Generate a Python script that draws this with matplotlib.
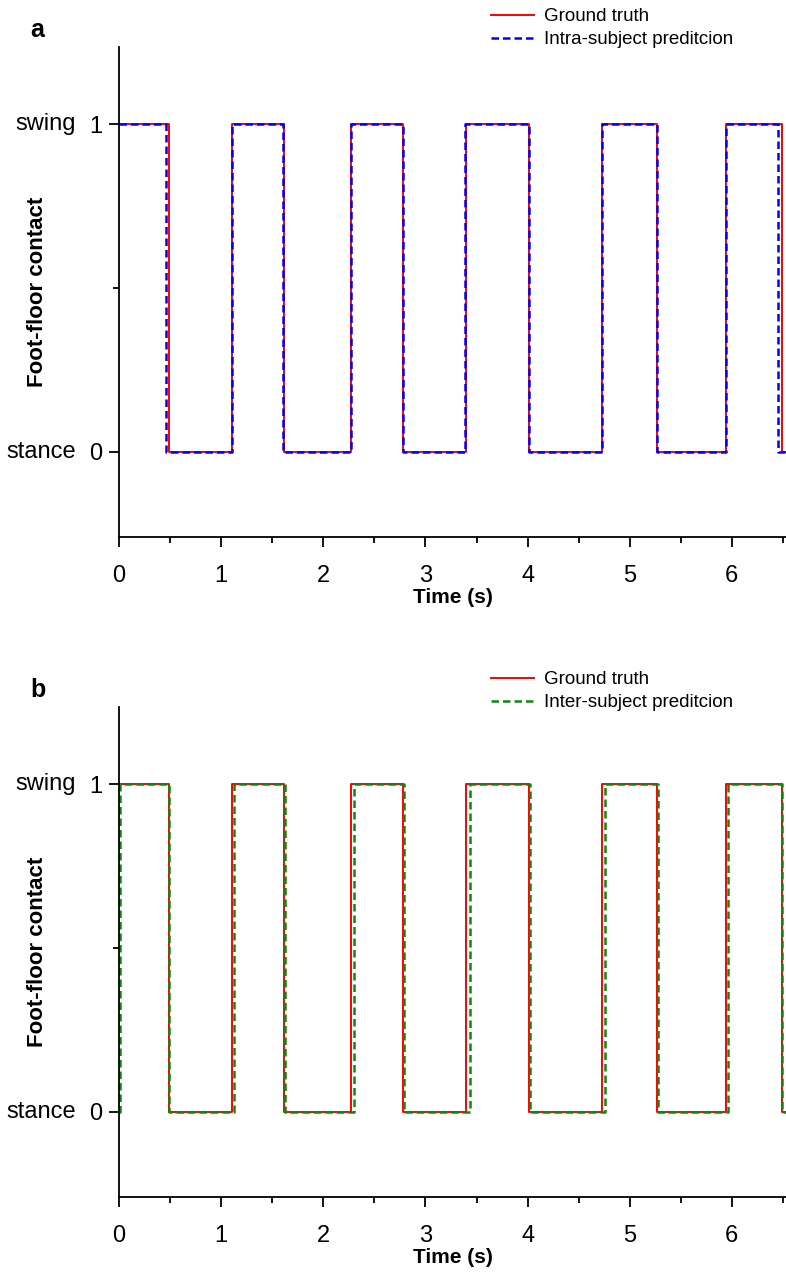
import matplotlib
matplotlib.use("Agg")
import matplotlib.pyplot as plt
from matplotlib.ticker import MultipleLocator, FixedLocator

# ---------------- data ----------------
t_end = 6.53
# Ground truth (same in both panels): change times and levels after each change
truth_times = [0.0, 0.49, 1.11, 1.615, 2.267, 2.78, 3.40, 4.01, 4.73, 5.27, 5.945, 6.487]
truth_levels = [1, 0, 1, 0, 1, 0, 1, 0, 1, 0, 1, 0]

intra_times = [0.0, 0.457, 1.11, 1.607, 2.267, 2.78, 3.39, 4.01, 4.73, 5.27, 5.945, 6.45]
intra_levels = [1, 0, 1, 0, 1, 0, 1, 0, 1, 0, 1, 0]

inter_times = [0.0, 0.006, 0.49, 1.13, 1.63, 2.30, 2.79, 3.44, 4.025, 4.755, 5.28, 5.965, 6.49]
inter_levels = [0, 1, 0, 1, 0, 1, 0, 1, 0, 1, 0, 1, 0]

x_ticks = [0, 1, 2, 3, 4, 5, 6]
y_tick_labels = ["0", "1"]
state_labels = ["stance", "swing"]

# ---------------- style ----------------
plt.rcParams["font.family"] = ["Liberation Sans", "DejaVu Sans"]

W, H = 786, 1275
fig = plt.figure(figsize=(W / 100, H / 100), dpi=100)

def px_axes(top, bottom, left=119, right=786):
    return fig.add_axes([left / W, 1 - bottom / H, (right - left) / W, (bottom - top) / H])

def style_axes(ax):
    ax.set_xlim(0, t_end)
    ax.set_ylim(-0.26, 1.235)
    for s in ("top", "right"):
        ax.spines[s].set_visible(False)
    for s in ("left", "bottom"):
        ax.spines[s].set_linewidth(1.3)
    ax.xaxis.set_major_locator(FixedLocator(x_ticks))
    ax.xaxis.set_minor_locator(MultipleLocator(0.5))
    ax.yaxis.set_major_locator(FixedLocator([0, 1]))
    ax.yaxis.set_minor_locator(FixedLocator([0.5]))
    ax.set_yticklabels(y_tick_labels)
    ax.tick_params(axis="both", which="major", direction="out", length=7, width=1.3,
                   labelsize=17)
    ax.tick_params(axis="both", which="minor", direction="out", length=4, width=1.3)
    ax.tick_params(axis="x", pad=13)
    ax.tick_params(axis="y", pad=5)
    ax.set_xlabel("Time (s)", fontsize=15, fontweight="bold", labelpad=1)
    ax.set_ylabel("Foot-floor contact", fontsize=16, fontweight="bold", labelpad=30)
    for yv, lab in zip([0, 1], state_labels):
        ax.text(-0.42, yv, lab, transform=ax.transData, ha="right", va="center",
                fontsize=17, clip_on=False)

def steps(times, levels):
    return list(times) + [t_end], list(levels) + [levels[-1]]

# Panel a
axa = px_axes(47, 537)
style_axes(axa)
tx, ty = steps(truth_times, truth_levels)
ix, iy = steps(intra_times, intra_levels)
la1, = axa.step(tx, ty, where="post", color="#ff0000", lw=1.4, label="Ground truth", clip_on=False)
la2, = axa.step(ix, iy, where="post", color="#0000ff", lw=1.8, ls=(0, (3, 1.6)),
                label="Intra-subject preditcion", clip_on=False)
fig.legend(handles=[la1, la2], loc="upper left", bbox_to_anchor=(480 / W, 1 + 3 / H),
           frameon=False, fontsize=13.5, handlelength=2.3, handletextpad=0.5,
           labelspacing=0.3, borderaxespad=0.2)
fig.text(30 / W, 1 - 30 / H, "a", fontsize=18, fontweight="bold", va="center", ha="left")

# Panel b
axb = px_axes(707, 1197)
style_axes(axb)
gx, gy = steps(inter_times, inter_levels)
lb1, = axb.step(tx, ty, where="post", color="#ff0000", lw=1.4, label="Ground truth", clip_on=False)
lb2, = axb.step(gx, gy, where="post", color="#0a8a0a", lw=1.8, ls=(0, (3, 1.6)),
                label="Inter-subject preditcion", clip_on=False)
fig.legend(handles=[lb1, lb2], loc="upper left", bbox_to_anchor=(480 / W, 1 - 660 / H),
           frameon=False, fontsize=13.5, handlelength=2.3, handletextpad=0.5,
           labelspacing=0.3, borderaxespad=0.2)
fig.text(30 / W, 1 - 690 / H, "b", fontsize=18, fontweight="bold", va="center", ha="left")

fig.savefig("out.png", dpi=100)
